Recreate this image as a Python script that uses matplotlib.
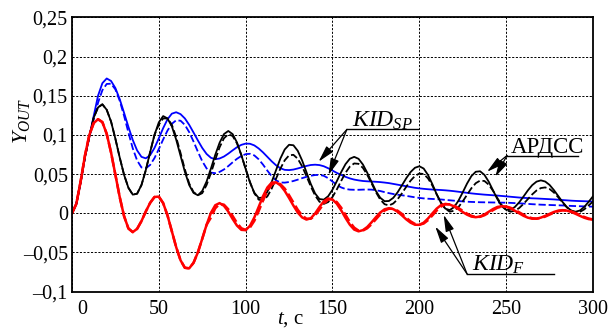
import matplotlib
matplotlib.use("Agg")
import matplotlib.pyplot as plt
import matplotlib.transforms as mtransforms
import numpy as np

# time grid, s
t = np.linspace(0, 300, 121)

# АРДСС, black
ardss_solid = [0, 0.012, 0.040, 0.072, 0.098, 0.122, 0.135, 0.139, 0.132, 0.117,
               0.095, 0.071, 0.049, 0.0325, 0.0238, 0.025, 0.036, 0.055, 0.078, 0.100,
               0.116, 0.124, 0.121, 0.111, 0.094, 0.0735, 0.053, 0.036, 0.026, 0.023,
               0.0285, 0.0405, 0.057, 0.0746, 0.090, 0.101, 0.105, 0.101, 0.0904, 0.0745,
               0.0565, 0.0393, 0.0263, 0.0196, 0.020, 0.0275, 0.040, 0.055, 0.0699, 0.0814,
               0.0874, 0.0868, 0.0797, 0.0675, 0.0525, 0.0375, 0.0253, 0.0182, 0.0174, 0.0217,
               0.0301, 0.041, 0.0525, 0.0627, 0.0696, 0.072, 0.0695, 0.0623, 0.0518, 0.0399,
               0.0284, 0.0198, 0.0154, 0.0157, 0.0197, 0.0268, 0.0357, 0.0448, 0.0527, 0.0581,
               0.060, 0.0571, 0.0489, 0.0372, 0.0243, 0.0131, 0.0059, 0.0041, 0.0078, 0.0159,
               0.0267, 0.038, 0.0475, 0.053, 0.0536, 0.049, 0.0402, 0.029, 0.0179, 0.009,
               0.0044, 0.0046, 0.008, 0.014, 0.0214, 0.0292, 0.0359, 0.0404, 0.042, 0.0405,
               0.0362, 0.0296, 0.022, 0.0144, 0.0078, 0.0035, 0.002, 0.0036, 0.0082, 0.0146,
               0.0217]
ardss_dash = [0, 0.012, 0.040, 0.072, 0.098, 0.122, 0.135, 0.139, 0.132, 0.117,
              0.095, 0.071, 0.049, 0.0325, 0.0238, 0.025, 0.036, 0.055, 0.078, 0.100,
              0.113, 0.121, 0.121, 0.113, 0.097, 0.077, 0.056, 0.038, 0.027, 0.023,
              0.0257, 0.0361, 0.0513, 0.0684, 0.0842, 0.0957, 0.1008, 0.0986, 0.0892, 0.0743,
              0.0566, 0.0399, 0.0255, 0.0174, 0.0165, 0.0216, 0.0315, 0.0442, 0.057, 0.0676,
              0.0739, 0.0746, 0.0696, 0.060, 0.0475, 0.0343, 0.0227, 0.0148, 0.012, 0.0143,
              0.0208, 0.0304, 0.0413, 0.0517, 0.0596, 0.0636, 0.0631, 0.058, 0.0491, 0.0382,
              0.027, 0.0175, 0.0116, 0.010, 0.0125, 0.0179, 0.0255, 0.0339, 0.0417, 0.0476,
              0.0507, 0.0501, 0.0446, 0.0354, 0.0242, 0.0136, 0.0057, 0.0021, 0.0032, 0.0078,
              0.0152, 0.0237, 0.032, 0.0384, 0.0417, 0.0412, 0.0365, 0.0285, 0.0192, 0.0104,
              0.0042, 0.002, 0.0032, 0.0067, 0.012, 0.0181, 0.0241, 0.0291, 0.0322, 0.033,
              0.031, 0.0265, 0.0204, 0.0136, 0.0075, 0.003, 0.001, 0.0018, 0.005, 0.010,
              0.015]

# KID_SP, blue
sp_solid = [0, 0.012, 0.040, 0.072, 0.098, 0.124, 0.150, 0.166, 0.172, 0.1688,
            0.1597, 0.1455, 0.1281, 0.1102, 0.0935, 0.0802, 0.072, 0.0701, 0.0741, 0.0833,
            0.0956, 0.1086, 0.1199, 0.1271, 0.1289, 0.1265, 0.121, 0.1128, 0.103, 0.0929,
            0.0834, 0.0757, 0.0708, 0.069, 0.0699, 0.0724, 0.0761, 0.0803, 0.0843, 0.0873,
            0.0889, 0.0887, 0.0866, 0.0827, 0.0777, 0.072, 0.0663, 0.0613, 0.0575, 0.0554,
            0.0551, 0.0558, 0.0572, 0.0588, 0.0604, 0.0616, 0.062, 0.0615, 0.060, 0.0575,
            0.0545, 0.0515, 0.049, 0.0465, 0.0445, 0.043, 0.042, 0.0412, 0.0408, 0.0405,
            0.0402, 0.0398, 0.0392, 0.0385, 0.0375, 0.0365, 0.0355, 0.0345, 0.0335, 0.0325,
            0.0318, 0.0312, 0.0307, 0.0303, 0.030, 0.0297, 0.0293, 0.0288, 0.0282, 0.0275,
            0.0268, 0.0261, 0.0254, 0.0248, 0.0243, 0.0238, 0.0234, 0.023, 0.0226, 0.0221,
            0.0216, 0.0211, 0.0206, 0.0201, 0.0197, 0.0194, 0.0191, 0.0189, 0.0186, 0.0183,
            0.018, 0.0177, 0.0173, 0.0169, 0.0165, 0.0161, 0.0158, 0.0156, 0.0154, 0.0152,
            0.015]
sp_dash = [0, 0.012, 0.040, 0.072, 0.097, 0.120, 0.141, 0.157, 0.165, 0.1653,
           0.158, 0.1435, 0.1243, 0.103, 0.0828, 0.0674, 0.0585, 0.0574, 0.0617, 0.0704,
           0.0819, 0.0942, 0.1055, 0.1142, 0.1186, 0.1181, 0.1128, 0.1035, 0.0915, 0.0785,
           0.0665, 0.0573, 0.0519, 0.0512, 0.0528, 0.0559, 0.0602, 0.065, 0.0695, 0.0731,
           0.0754, 0.0759, 0.0738, 0.0689, 0.0621, 0.0544, 0.0474, 0.042, 0.0393, 0.0391,
           0.0399, 0.0412, 0.0429, 0.0448, 0.0465, 0.0479, 0.0488, 0.049, 0.0478, 0.0448,
           0.0405, 0.0362, 0.033, 0.031, 0.0302, 0.030, 0.030, 0.0302, 0.0303, 0.0302,
           0.0295, 0.0284, 0.027, 0.0257, 0.0246, 0.0237, 0.023, 0.0222, 0.0213, 0.0204,
           0.0196, 0.019, 0.0186, 0.0183, 0.018, 0.0176, 0.0171, 0.0166, 0.0161, 0.0156,
           0.0152, 0.0148, 0.0145, 0.0143, 0.0141, 0.014, 0.0139, 0.0138, 0.0137, 0.0136,
           0.0135, 0.0133, 0.013, 0.0127, 0.0124, 0.012, 0.0116, 0.0113, 0.011, 0.0108,
           0.0106, 0.0104, 0.0102, 0.01, 0.0097, 0.0094, 0.0092, 0.009, 0.0088, 0.0086,
           0.0085]

# KID_F, red
f_solid = [0, 0.012, 0.041, 0.074, 0.100, 0.115, 0.120, 0.1163, 0.1013, 0.0775,
           0.0491, 0.0205, -0.0037, -0.0194, -0.024, -0.0198, -0.010, 0.0023, 0.0133, 0.0208,
           0.0213, 0.013, -0.0027, -0.0229, -0.0432, -0.0599, -0.0695, -0.0702, -0.0631, -0.0498,
           -0.0325, -0.0147, 0.0006, 0.0103, 0.013, 0.0096, 0.0022, -0.0072, -0.0157, -0.0211,
           -0.0215, -0.0159, -0.0053, 0.0081, 0.0218, 0.0329, 0.0391, 0.0395, 0.0357, 0.0286,
           0.0195, 0.0098, 0.001, -0.0052, -0.008, -0.0064, -0.0002, 0.008, 0.0153, 0.0189,
           0.0176, 0.0122, 0.0038, -0.0059, -0.0146, -0.0208, -0.023, -0.0215, -0.0175, -0.0115,
           -0.005, 0.001, 0.0051, 0.0065, 0.0053, 0.002, -0.0027, -0.0078, -0.012, -0.0146,
           -0.0147, -0.012, -0.0067, -0.0002, 0.006, 0.0104, 0.012, 0.0112, 0.0088, 0.0054,
           0.0016, -0.0018, -0.0042, -0.005, -0.0041, -0.0015, 0.002, 0.0055, 0.0081, 0.009,
           0.0083, 0.0063, 0.0033, 0.0, -0.0032, -0.0056, -0.0069, -0.0068, -0.0055, -0.0033,
           -0.0007, 0.0017, 0.0034, 0.004, 0.0034, 0.0017, -0.0007, -0.0033, -0.0057, -0.0074,
           -0.008]
f_dash = [0, 0.012, 0.041, 0.074, 0.100, 0.115, 0.120, 0.1163, 0.1013, 0.0775,
          0.0491, 0.0205, -0.0037, -0.0194, -0.024, -0.0198, -0.010, 0.0023, 0.0133, 0.0208,
          0.0213, 0.013, -0.0027, -0.0229, -0.0432, -0.0599, -0.0695, -0.0702, -0.0631, -0.0498,
          -0.0325, -0.0147, -0.0055, 0.0064, 0.0119, 0.011, 0.0051, -0.0034, -0.0123, -0.019,
          -0.0213, -0.0181, -0.0096, 0.0028, 0.0163, 0.0284, 0.0367, 0.0393, 0.0372, 0.0315,
          0.0231, 0.0137, 0.0045, -0.0027, -0.0069, -0.007, -0.0027, 0.0047, 0.0124, 0.0174,
          0.0182, 0.0143, 0.0072, -0.002, -0.0112, -0.0183, -0.0221, -0.0221, -0.0191, -0.0139,
          -0.0076, -0.0014, 0.0035, 0.0059, 0.0058, 0.0033, -0.0008, -0.0058, -0.0103, -0.0136,
          -0.0146, -0.0131, -0.0088, -0.0028, 0.0035, 0.0086, 0.0114, 0.0115, 0.0098, 0.0067,
          0.0032, -0.0005, -0.0032, -0.0047, -0.0045, -0.0025, 0.0006, 0.0041, 0.0071, 0.0086,
          0.0086, 0.0071, 0.0045, 0.0013, -0.0019, -0.0047, -0.0063, -0.0069, -0.006, -0.0042,
          -0.0017, 0.0007, 0.0027, 0.0038, 0.0036, 0.0024, 0.0003, -0.0023, -0.0047, -0.0067,
          -0.0078]

xticks = [0, 50, 100, 150, 200, 250, 300]
xlabels = ['0', '50', '100', '150', '200', '250', '300']
yticks = [-0.1, -0.05, 0, 0.05, 0.1, 0.15, 0.2, 0.25]
ylabels = ['\u20130,1', '\u20130,05', '0', '0,05', '0,1', '0,15', '0,2', '0,25']

plt.rcParams['font.family'] = 'Liberation Serif'
plt.rcParams['mathtext.fontset'] = 'custom'
plt.rcParams['mathtext.rm'] = 'Liberation Serif'
plt.rcParams['mathtext.it'] = 'Liberation Serif:italic'

fig = plt.figure(figsize=(6.09, 3.29), dpi=100)
ax = fig.add_axes([0.1182, 0.1134, 0.8555, 0.834])

dash = (0, (4, 1.6))
ax.plot(t, sp_solid, color='blue', lw=1.3)
ax.plot(t, sp_dash, color='blue', lw=1.3, linestyle=dash)
ax.plot(t, ardss_solid, color='black', lw=1.3)
ax.plot(t, ardss_dash, color='black', lw=1.3, linestyle=dash)
ax.plot(t, f_solid, color='red', lw=1.8)
ax.plot(t, f_dash, color='red', lw=1.8, linestyle=dash)

ax.set_xlim(0, 300)
ax.set_ylim(-0.1, 0.25)
ax.set_xticks(xticks)
ax.set_xticklabels(xlabels)
ax.set_yticks(yticks)
ax.set_yticklabels(ylabels)
ax.tick_params(length=0, labelsize=14.5, pad=3)
ax.tick_params(axis='x', pad=6)
ax.grid(True, color='black', linestyle=(0, (2.2, 1.6)), linewidth=0.7)
for s in ax.spines.values():
    s.set_linewidth(1.3)

# "0" on the x axis sits right of the corner
off = mtransforms.ScaledTranslation(0.10, 0, fig.dpi_scale_trans)
lab0 = ax.get_xticklabels()[0]
lab0.set_transform(lab0.get_transform() + off)

ax.set_xlabel('$t$, с', fontsize=15)
ax.xaxis.set_label_coords(0.42, -0.068)
ax.set_ylabel('$Y_{OUT}$', fontsize=16)
ax.yaxis.set_label_coords(-0.076, 0.62)

arrow = dict(arrowstyle='-|>,head_length=1.0,head_width=0.26', color='black',
             lw=0.9, shrinkA=0, shrinkB=0)

# KID_SP
ax.plot([158.3, 199.4], [0.107, 0.107], color='black', lw=1.0)
ax.text(161.4, 0.110, r'$KID_{SP}$', fontsize=17, ha='left', va='baseline')
ax.annotate('', xy=(142, 0.0658), xytext=(158.3, 0.107), arrowprops=arrow)
ax.annotate('', xy=(147.7, 0.0489), xytext=(158.3, 0.107), arrowprops=arrow)

# АРДСС
ax.plot([250.5, 291.6], [0.0737, 0.0737], color='black', lw=1.0)
ax.text(252.4, 0.0772, 'АРДСС', fontsize=16.5, ha='left', va='baseline')
ax.annotate('', xy=(239, 0.053), xytext=(250.5, 0.0737), arrowprops=arrow)
ax.annotate('', xy=(243.8, 0.0467), xytext=(250.5, 0.0737), arrowprops=arrow)

# KID_F
ax.plot([227.5, 277.8], [-0.0774, -0.0774], color='black', lw=1.0)
ax.text(230.4, -0.0738, r'$KID_{F}$', fontsize=17, ha='left', va='baseline')
ax.annotate('', xy=(214, -0.002), xytext=(227.5, -0.0774), arrowprops=arrow)
ax.annotate('', xy=(209.2, -0.017), xytext=(227.5, -0.0774), arrowprops=arrow)

fig.savefig('out.png', dpi=100)
